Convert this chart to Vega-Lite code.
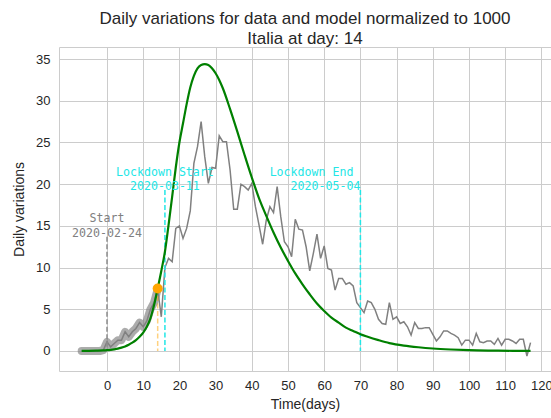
{
  "$schema": "https://vega.github.io/schema/vega-lite/v6.json",
  "autosize": {"type": "none"},
  "padding": {"left": 59, "top": 47, "right": 0, "bottom": 47},
  "width": 492,
  "height": 324,
  "background": "white",
  "config": {
    "view": {"stroke": "#cccccc", "strokeWidth": 1},
    "font": "Liberation Sans",
    "axis": {
      "domain": false,
      "ticks": false,
      "grid": true,
      "gridColor": "#cccccc",
      "gridWidth": 1,
      "labelFont": "Liberation Sans",
      "labelFontSize": 13,
      "labelColor": "#262626",
      "titleFont": "Liberation Sans",
      "titleFontSize": 14,
      "titleFontWeight": "normal",
      "titleColor": "#262626"
    }
  },
  "title": {
    "text": ["Daily variations for data and model normalized to 1000", "Italia at day: 14"],
    "font": "Liberation Sans",
    "fontSize": 17,
    "fontWeight": "normal",
    "color": "#262626",
    "lineHeight": 20,
    "anchor": "middle",
    "frame": "group",
    "baseline": "bottom",
    "offset": 1,
    "dy": 19
  },
  "datasets": {
    "observed": [
      {"day": -7, "value": 0}, {"day": -6, "value": 0}, {"day": -5, "value": 0}, {"day": -4, "value": 0},
      {"day": -3, "value": 0}, {"day": -2, "value": 0}, {"day": -1, "value": 0.1}, {"day": 0, "value": 1.1},
      {"day": 1, "value": 0.5}, {"day": 2, "value": 0.9}, {"day": 3, "value": 1.3}, {"day": 4, "value": 1.3},
      {"day": 5, "value": 2.3}, {"day": 6, "value": 1.7}, {"day": 7, "value": 2.3}, {"day": 8, "value": 2.7},
      {"day": 9, "value": 3.4}, {"day": 10, "value": 2.9}, {"day": 11, "value": 3.6}, {"day": 12, "value": 5.0},
      {"day": 13, "value": 5.8}, {"day": 14, "value": 7.4}, {"day": 15, "value": 4.1}, {"day": 16, "value": 10.0},
      {"day": 17, "value": 11.1}, {"day": 18, "value": 10.7}, {"day": 19, "value": 14.7}, {"day": 20, "value": 15.0},
      {"day": 21, "value": 13.5}, {"day": 22, "value": 14.7}, {"day": 23, "value": 16.8}, {"day": 24, "value": 22.5},
      {"day": 25, "value": 24.5}, {"day": 26, "value": 27.5}, {"day": 27, "value": 23.3}, {"day": 28, "value": 20.1},
      {"day": 29, "value": 22.0}, {"day": 30, "value": 21.9}, {"day": 31, "value": 25.8}, {"day": 32, "value": 25.1},
      {"day": 33, "value": 25.1}, {"day": 34, "value": 21.7}, {"day": 35, "value": 17.0}, {"day": 36, "value": 17.0},
      {"day": 37, "value": 20.0}, {"day": 38, "value": 19.7}, {"day": 39, "value": 19.3}, {"day": 40, "value": 20.1},
      {"day": 41, "value": 17.3}, {"day": 42, "value": 15.1}, {"day": 43, "value": 12.8}, {"day": 44, "value": 15.7},
      {"day": 45, "value": 17.3}, {"day": 46, "value": 16.6}, {"day": 47, "value": 19.7}, {"day": 48, "value": 16.1},
      {"day": 49, "value": 13.1}, {"day": 50, "value": 12.5}, {"day": 51, "value": 11.3}, {"day": 52, "value": 15.8},
      {"day": 53, "value": 14.6}, {"day": 54, "value": 14.5}, {"day": 55, "value": 12.5}, {"day": 56, "value": 9.6},
      {"day": 57, "value": 11.7}, {"day": 58, "value": 14.0}, {"day": 59, "value": 11.1}, {"day": 60, "value": 12.6},
      {"day": 61, "value": 9.9}, {"day": 62, "value": 9.7}, {"day": 63, "value": 7.3}, {"day": 64, "value": 8.7},
      {"day": 65, "value": 8.7}, {"day": 66, "value": 8.0}, {"day": 67, "value": 8.2}, {"day": 68, "value": 7.8},
      {"day": 69, "value": 5.8}, {"day": 70, "value": 5.2}, {"day": 71, "value": 4.6}, {"day": 72, "value": 6.0},
      {"day": 73, "value": 5.8}, {"day": 74, "value": 5.0}, {"day": 75, "value": 3.8}, {"day": 76, "value": 3.3},
      {"day": 77, "value": 3.2}, {"day": 78, "value": 5.8}, {"day": 79, "value": 3.8}, {"day": 80, "value": 4.1},
      {"day": 81, "value": 3.3}, {"day": 82, "value": 3.5}, {"day": 83, "value": 2.9}, {"day": 84, "value": 1.9},
      {"day": 85, "value": 3.4}, {"day": 86, "value": 2.7}, {"day": 87, "value": 2.7}, {"day": 88, "value": 2.8},
      {"day": 89, "value": 2.8}, {"day": 90, "value": 2.0}, {"day": 91, "value": 1.2}, {"day": 92, "value": 1.7},
      {"day": 93, "value": 2.4}, {"day": 94, "value": 2.4}, {"day": 95, "value": 2.1}, {"day": 96, "value": 1.9},
      {"day": 97, "value": 1.6}, {"day": 98, "value": 0.7}, {"day": 99, "value": 1.3}, {"day": 100, "value": 1.3},
      {"day": 101, "value": 0.7}, {"day": 102, "value": 2.1}, {"day": 103, "value": 1.1}, {"day": 104, "value": 1.0},
      {"day": 105, "value": 1.2}, {"day": 106, "value": 1.2}, {"day": 107, "value": 0.8}, {"day": 108, "value": 1.5},
      {"day": 109, "value": 0.7}, {"day": 110, "value": 1.4}, {"day": 111, "value": 1.4}, {"day": 112, "value": 1.2},
      {"day": 113, "value": 0.9}, {"day": 114, "value": 1.4}, {"day": 115, "value": 1.4}, {"day": 116, "value": -0.6},
      {"day": 117, "value": 1.0}
    ],
    "model": [
      {"day": -7, "value": 0.01}, {"day": -5, "value": 0.02}, {"day": -3, "value": 0.04}, {"day": -1, "value": 0.07},
      {"day": 0, "value": 0.1}, {"day": 1, "value": 0.14}, {"day": 2, "value": 0.2}, {"day": 3, "value": 0.28},
      {"day": 4, "value": 0.4}, {"day": 5, "value": 0.55}, {"day": 6, "value": 0.75}, {"day": 7, "value": 1.0},
      {"day": 8, "value": 1.3}, {"day": 9, "value": 1.7}, {"day": 10, "value": 2.2}, {"day": 11, "value": 2.9},
      {"day": 12, "value": 3.9}, {"day": 13, "value": 5.5}, {"day": 14, "value": 7.5}, {"day": 15, "value": 9.6},
      {"day": 16, "value": 11.9}, {"day": 17, "value": 15.1}, {"day": 18, "value": 18.5}, {"day": 19, "value": 22.0},
      {"day": 20, "value": 25.0}, {"day": 21, "value": 27.3}, {"day": 22, "value": 29.6}, {"day": 23, "value": 31.6},
      {"day": 24, "value": 33.0}, {"day": 25, "value": 33.9}, {"day": 26, "value": 34.3}, {"day": 27, "value": 34.4},
      {"day": 28, "value": 34.3}, {"day": 29, "value": 33.9}, {"day": 30, "value": 33.3}, {"day": 31, "value": 32.5},
      {"day": 32, "value": 31.5}, {"day": 34, "value": 29.0}, {"day": 36, "value": 26.3}, {"day": 38, "value": 23.5},
      {"day": 40, "value": 20.8}, {"day": 42, "value": 18.3}, {"day": 44, "value": 16.2}, {"day": 46, "value": 14.2},
      {"day": 48, "value": 12.4}, {"day": 50, "value": 10.8}, {"day": 52, "value": 9.3}, {"day": 54, "value": 8.0},
      {"day": 56, "value": 6.8}, {"day": 58, "value": 5.7}, {"day": 60, "value": 4.8}, {"day": 62, "value": 4.0},
      {"day": 64, "value": 3.4}, {"day": 66, "value": 2.8}, {"day": 68, "value": 2.4}, {"day": 70, "value": 2.0},
      {"day": 72, "value": 1.7}, {"day": 75, "value": 1.3}, {"day": 78, "value": 0.95}, {"day": 82, "value": 0.65},
      {"day": 86, "value": 0.45}, {"day": 90, "value": 0.3}, {"day": 95, "value": 0.18}, {"day": 100, "value": 0.1},
      {"day": 106, "value": 0.05}, {"day": 112, "value": 0.02}, {"day": 117, "value": 0.01}
    ]
  },
  "layer": [
    {
      "data": {"name": "observed"},
      "transform": [{"filter": "datum.day <= 14"}],
      "mark": {"type": "line", "color": "#808080", "opacity": 0.65, "strokeWidth": 8, "strokeCap": "round", "strokeJoin": "round"},
      "encoding": {
        "x": {
          "field": "day", "type": "quantitative", "title": "Time(days)",
          "scale": {"domain": [-13.26, 122.65], "nice": false, "zero": false},
          "axis": {"values": [0, 10, 20, 30, 40, 50, 60, 70, 80, 90, 100, 110, 120], "labelPadding": 8, "titlePadding": 5, "labelFlush": false}
        },
        "y": {
          "field": "value", "type": "quantitative", "title": "Daily variations",
          "scale": {"domain": [-2.4, 36.45], "nice": false, "zero": false},
          "axis": {"values": [0, 5, 10, 15, 20, 25, 30, 35], "labelPadding": 9, "titlePadding": 9, "labelFlush": false}
        }
      }
    },
    {
      "data": {"name": "observed"},
      "mark": {"type": "line", "color": "#808080", "strokeWidth": 1.5},
      "encoding": {
        "x": {"field": "day", "type": "quantitative"},
        "y": {"field": "value", "type": "quantitative"}
      }
    },
    {
      "data": {"values": [{"day": 0, "value": 13.7}]},
      "mark": {"type": "rule", "color": "#8c8c8c", "strokeWidth": 1.5, "strokeDash": [5, 2.5]},
      "encoding": {
        "x": {"field": "day", "type": "quantitative"},
        "y": {"field": "value", "type": "quantitative"},
        "y2": {"datum": 0}
      }
    },
    {
      "data": {"values": [{"day": 14, "value": 7.5}]},
      "mark": {"type": "rule", "color": "#ffa500", "opacity": 0.5, "strokeWidth": 1.5, "strokeDash": [5, 2.5]},
      "encoding": {
        "x": {"field": "day", "type": "quantitative"},
        "y": {"field": "value", "type": "quantitative"},
        "y2": {"datum": 0}
      }
    },
    {
      "data": {"values": [{"day": 16, "value": 19.3}, {"day": 70, "value": 19.3}]},
      "mark": {"type": "rule", "color": "#22e6e6", "strokeWidth": 1.5, "strokeDash": [5, 2.5]},
      "encoding": {
        "x": {"field": "day", "type": "quantitative"},
        "y": {"field": "value", "type": "quantitative"},
        "y2": {"datum": 0}
      }
    },
    {
      "data": {"name": "model"},
      "mark": {"type": "line", "color": "#008000", "strokeWidth": 2.2, "interpolate": "monotone"},
      "encoding": {
        "x": {"field": "day", "type": "quantitative"},
        "y": {"field": "value", "type": "quantitative"}
      }
    },
    {
      "data": {"values": [{"day": 14, "value": 7.5}]},
      "mark": {"type": "point", "filled": true, "color": "#ffa500", "opacity": 1, "size": 100},
      "encoding": {
        "x": {"field": "day", "type": "quantitative"},
        "y": {"field": "value", "type": "quantitative"}
      }
    },
    {
      "data": {"values": [{"day": 0, "value": 13.7, "label": "Start\n2020-02-24"}]},
      "mark": {"type": "text", "font": "DejaVu Sans Mono", "fontSize": 11.6, "color": "#808080", "align": "center", "baseline": "bottom", "lineBreak": "\n", "lineHeight": 14.5, "dy": -12.5},
      "encoding": {
        "x": {"field": "day", "type": "quantitative"},
        "y": {"field": "value", "type": "quantitative"},
        "text": {"field": "label"}
      }
    },
    {
      "data": {"values": [{"day": 16, "value": 19.3, "label": "Lockdown Start\n2020-03-11"}]},
      "mark": {"type": "text", "font": "DejaVu Sans Mono", "fontSize": 11.6, "color": "#22e6e6", "align": "center", "baseline": "bottom", "lineBreak": "\n", "lineHeight": 14.5, "dy": -12.5},
      "encoding": {
        "x": {"field": "day", "type": "quantitative"},
        "y": {"field": "value", "type": "quantitative"},
        "text": {"field": "label"}
      }
    },
    {
      "data": {"values": [{"day": 70, "value": 19.3, "label": "2020-05-04"}]},
      "mark": {"type": "text", "font": "DejaVu Sans Mono", "fontSize": 11.6, "color": "#22e6e6", "align": "right", "baseline": "bottom", "dy": 2},
      "encoding": {
        "x": {"field": "day", "type": "quantitative"},
        "y": {"field": "value", "type": "quantitative"},
        "text": {"field": "label"}
      }
    },
    {
      "data": {"values": [{"day": 70, "value": 19.3, "label": "Lockdown End"}]},
      "mark": {"type": "text", "font": "DejaVu Sans Mono", "fontSize": 11.6, "color": "#22e6e6", "align": "right", "baseline": "bottom", "dy": -12.5, "dx": -7},
      "encoding": {
        "x": {"field": "day", "type": "quantitative"},
        "y": {"field": "value", "type": "quantitative"},
        "text": {"field": "label"}
      }
    }
  ]
}
